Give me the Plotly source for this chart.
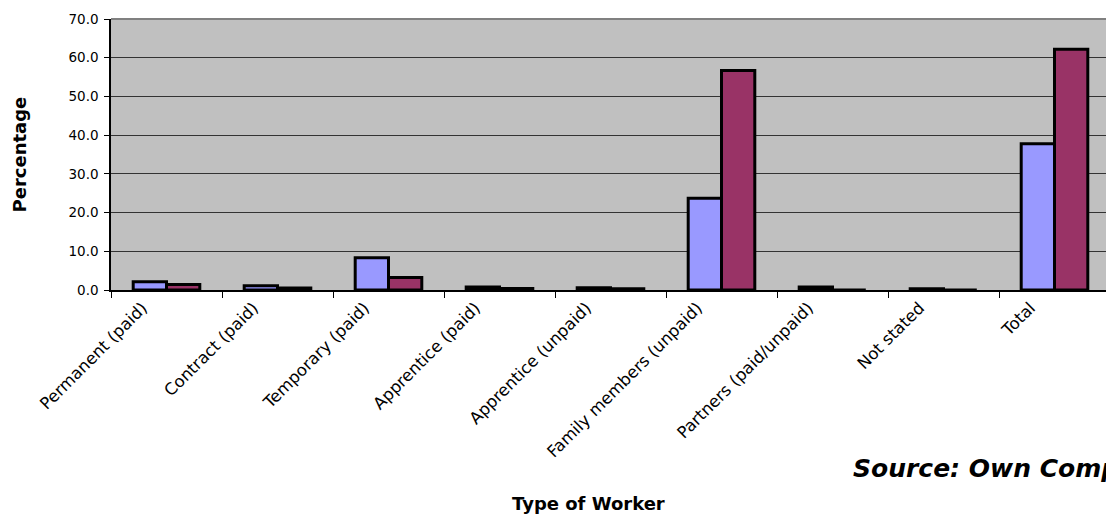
import plotly.graph_objects as go

# Share of workers by type (percent), two series
categories = [
    "Permanent (paid)",
    "Contract (paid)",
    "Temporary (paid)",
    "Apprentice (paid)",
    "Apprentice (unpaid)",
    "Family members (unpaid)",
    "Partners (paid/unpaid)",
    "Not stated",
    "Total",
]
series1 = [2.1, 1.1, 8.3, 0.8, 0.6, 23.7, 0.8, 0.3, 37.8]
series2 = [1.4, 0.5, 3.2, 0.4, 0.3, 56.7, 0.0, 0.0, 62.2]
y_ticks = [0, 10, 20, 30, 40, 50, 60, 70]

W, H = 1106, 518
L, R, T, B = 111, 0, 19, 228
plot_w = W - L - R
plot_h = H - T - B
cat_px = 111  # width of one category slot in pixels


def px_x(px):
    return (px - L) / plot_w


def px_y(py):
    return (H - B - py) / plot_h


fig = go.Figure()
fig.add_trace(go.Bar(
    x=categories, y=series1, name="Series1",
    marker=dict(color="#9999FF", line=dict(color="#000000", width=3)),
))
fig.add_trace(go.Bar(
    x=categories, y=series2, name="Series2",
    marker=dict(color="#993366", line=dict(color="#000000", width=3)),
))

fig.update_layout(
    width=W, height=H,
    margin=dict(l=L, r=R, t=T, b=B, pad=0),
    paper_bgcolor="#FFFFFF",
    plot_bgcolor="#C0C0C0",
    barmode="group",
    bargap=0.4,
    bargroupgap=0.0,
    showlegend=False,
    font=dict(family="DejaVu Sans", color="#000000"),
)

fig.update_xaxes(
    type="category",
    range=[-0.5, -0.5 + plot_w / cat_px],
    tickangle=-45,
    tickson="boundaries",
    ticks="outside", ticklen=6, tickcolor="#000000", tickwidth=1,
    showline=True, linecolor="#000000", linewidth=1.5,
    showgrid=False,
    tickfont=dict(family="DejaVu Sans", size=16.5, color="#000000"),
    ticklabelshift=-24,
    ticklabelstandoff=0,
)

fig.update_yaxes(
    range=[0, 70],
    tickvals=y_ticks,
    tickformat=".1f",
    ticks="outside", ticklen=5, tickcolor="#000000", tickwidth=1,
    showline=True, linecolor="#000000", linewidth=1.5,
    showgrid=True, gridcolor="#333333", gridwidth=1,
    zeroline=False,
    tickfont=dict(family="DejaVu Sans", size=13.5, color="#000000"),
    ticklabelstandoff=3,
)

# grey frame along the top edge of the plotting area
fig.add_shape(type="line", xref="paper", yref="paper", x0=0, x1=1, y0=1, y1=1,
              line=dict(color="#808080", width=2), layer="above")

fig.add_annotation(
    text="<b>Percentage</b>", xref="paper", yref="paper",
    x=px_x(18.5), y=px_y(155), textangle=-90, showarrow=False,
    xanchor="center", yanchor="middle",
    font=dict(family="DejaVu Sans", size=18, color="#000000"),
)
fig.add_annotation(
    text="<b>Type of Worker</b>", xref="paper", yref="paper",
    x=px_x(588), y=px_y(503), showarrow=False,
    xanchor="center", yanchor="middle",
    font=dict(family="DejaVu Sans", size=18, color="#000000"),
)
fig.add_annotation(
    text="<b><i>Source: Own Computation</i></b>", xref="paper", yref="paper",
    x=px_x(851), y=px_y(468), showarrow=False,
    xanchor="left", yanchor="middle",
    font=dict(family="DejaVu Sans", size=25, color="#000000"),
)

fig.write_html("out.html")
